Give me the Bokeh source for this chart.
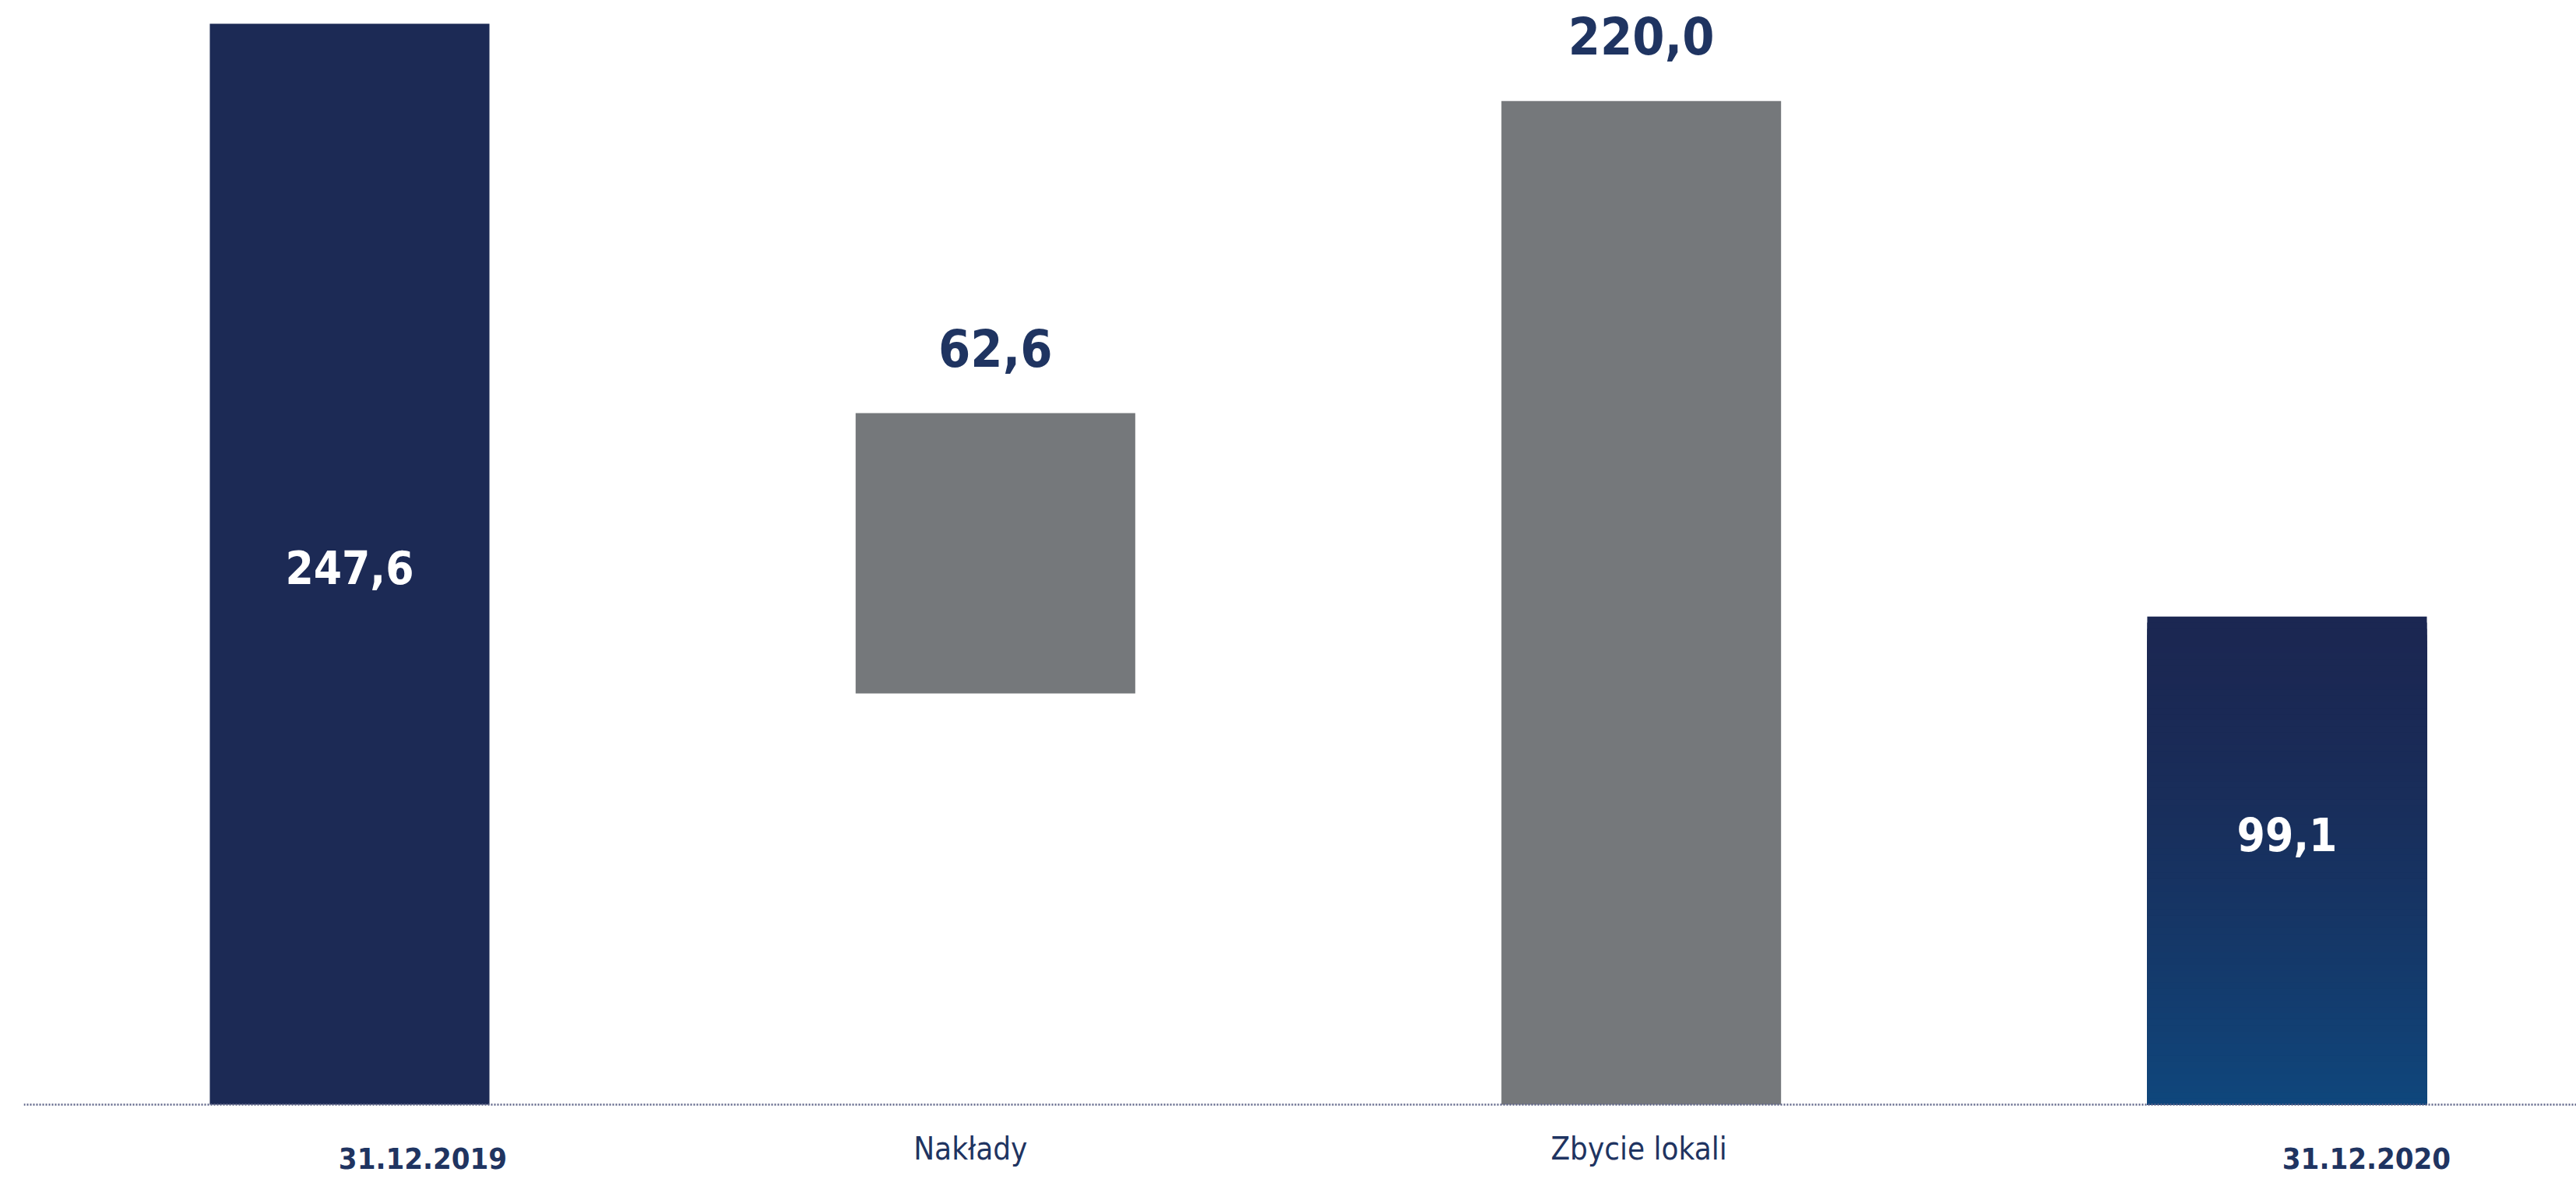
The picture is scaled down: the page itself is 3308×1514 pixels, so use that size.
import numpy as np
from bokeh.plotting import figure
from bokeh.models import Range1d, Span, ColumnDataSource
from bokeh.core.properties import value
from bokeh.embed import file_html
from bokeh.resources import INLINE

# ---- data ----
categories = ["31.12.2019", "Nakłady", "Zbycie lokali", "31.12.2020"]
values = [247.6, 62.6, 220.0, 99.1]
value_labels = ["247,6", "62,6", "220,0", "99,1"]
# bar extents as drawn in the picture (chart units)
bar_bottom = [0.0, 94.2, 0.0, 0.0]
bar_top = [247.6, 158.4, 229.9, 111.8]
label_inside = [True, False, False, True]

NAVY = "#1c2a55"
GREY = "#75787b"
TEXT = "#1f3461"
GRAD_TOP = np.array([0x1b, 0x27, 0x52])
GRAD_BOT = np.array([0x0f, 0x47, 0x7d])

FONT = "Noto Sans ExtraCondensed, Noto Sans Condensed, DejaVu Sans Condensed, Roboto"

x = list(range(len(categories)))
W, H = 3308, 1514

p = figure(width=W, height=H, output_backend="svg", toolbar_location=None,
           x_range=Range1d(-0.5046, 3.448), y_range=Range1d(-17.12, 252.95),
           min_border_left=30, min_border_right=0, min_border_top=0, min_border_bottom=0)
p.axis.visible = False
p.grid.visible = False
p.outline_line_color = None
p.background_fill_color = "white"
p.border_fill_color = "white"

# baseline
p.add_layout(Span(location=0, dimension="width", line_color="#5e6488",
                  line_width=2.5, line_dash="2 2"))

bw = 0.433
# solid bars (first three)
colors = [NAVY, GREY, GREY]
p.vbar(x=x[:3], bottom=bar_bottom[:3], top=bar_top[:3], width=bw,
       fill_color=colors, line_color=None)

# gradient bar (last): nested quads from the baseline, tallest first
n = 80
edges = np.linspace(bar_bottom[3], bar_top[3], n + 1)
tops = edges[1:][::-1]
t = 1 - tops / bar_top[3]          # 0 at top, 1 at bottom
t = t ** 1.6
cols = [
    "#%02x%02x%02x" % tuple(int(round(c)) for c in GRAD_TOP + (GRAD_BOT - GRAD_TOP) * ti)
    for ti in t
]
p.vbar(x=[x[3]] * n, bottom=[bar_bottom[3]] * n, top=tops, width=bw,
       fill_color=cols, line_color=None)

# value labels
inside_idx = [i for i in x if label_inside[i]]
outside_idx = [i for i in x if not label_inside[i]]
src_in = ColumnDataSource(dict(
    x=[x[i] for i in inside_idx],
    y=[(bar_bottom[i] + bar_top[i]) / 2 for i in inside_idx],
    t=[value_labels[i] for i in inside_idx],
    dy=[4, -34],
))
p.text(x="x", y="y", text="t", y_offset="dy", source=src_in,
       text_font=value(FONT), text_font_style="bold", text_font_size="58px",
       text_color="white", text_align="center", text_baseline="middle")
src_out = ColumnDataSource(dict(
    x=[x[i] for i in outside_idx],
    y=[bar_top[i] for i in outside_idx],
    t=[value_labels[i] for i in outside_idx],
))
p.text(x="x", y="y", text="t", y_offset=-84, source=src_out,
       text_font=value(FONT), text_font_style="bold", text_font_size="66px",
       text_color=TEXT, text_align="center", text_baseline="middle")

# category labels
src_cb = ColumnDataSource(dict(x=[x[0], x[3]], t=[categories[0], categories[3]],
                               dx=[94, 102], y=[0, 0]))
p.text(x="x", y="y", text="t", x_offset="dx", y_offset=69, source=src_cb,
       text_font=value(FONT), text_font_style="bold", text_font_size="38px",
       text_color=TEXT, text_align="center", text_baseline="middle")
src_cl = ColumnDataSource(dict(x=[x[1], x[2]], t=[categories[1], categories[2]],
                               dx=[-32, -3], y=[0, 0]))
p.text(x="x", y="y", text="t", x_offset="dx", y_offset=56, source=src_cl,
       text_font=value(FONT), text_font_style="normal", text_font_size="40px",
       text_color=TEXT, text_align="center", text_baseline="middle")

open("out.html", "w").write(file_html(p, INLINE))
